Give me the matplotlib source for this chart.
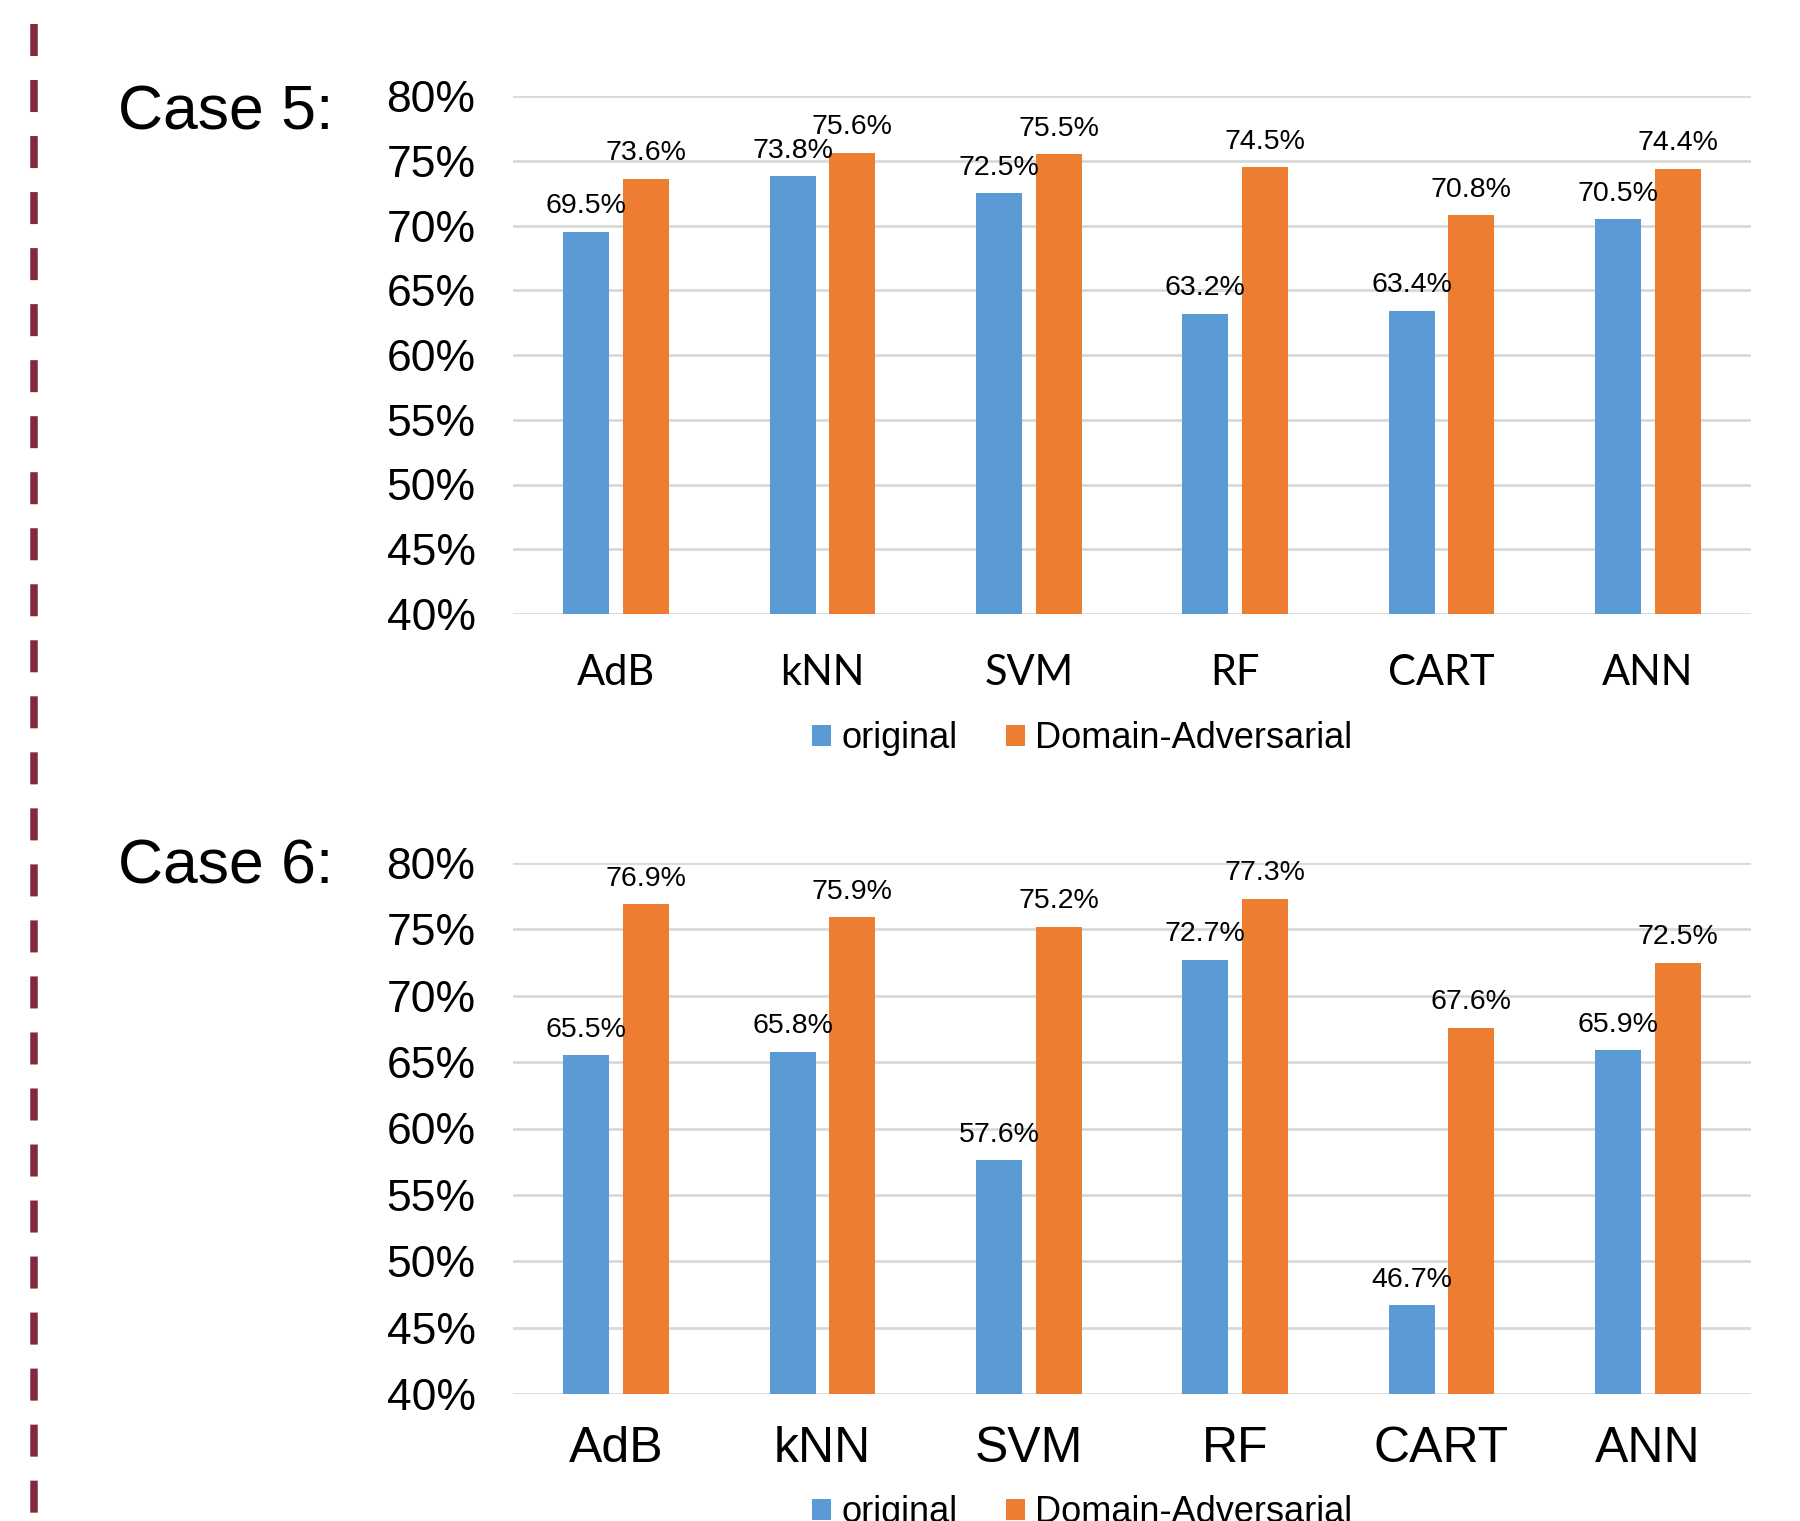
import matplotlib
matplotlib.use("Agg")
import matplotlib.pyplot as plt
from matplotlib.lines import Line2D
from matplotlib.patches import Patch

categories = ["AdB", "kNN", "SVM", "RF", "CART", "ANN"]
case5_original = [69.5, 73.8, 72.5, 63.2, 63.4, 70.5]
case5_adversarial = [73.6, 75.6, 75.5, 74.5, 70.8, 74.4]
case6_original = [65.5, 65.8, 57.6, 72.7, 46.7, 65.9]
case6_adversarial = [76.9, 75.9, 75.2, 77.3, 67.6, 72.5]
y_ticks = [40, 45, 50, 55, 60, 65, 70, 75, 80]
series_names = ["original", "Domain-Adversarial"]

BLUE = "#5B9BD5"
ORANGE = "#ED7D31"
GRID = "#D9D9D9"
ARIAL = "Liberation Sans"
CALIBRI_LIKE = "Lato"

W, H = 1800, 1521
fig = plt.figure(figsize=(W / 100, H / 100), dpi=100)

# dashed maroon divider on the left
fig.add_artist(Line2D([34 / W, 34 / W], [1 - 24 / H, 0], transform=fig.transFigure,
                      color="#84283C", linewidth=5.4, linestyle=(0, (4.27, 3.2)),
                      solid_capstyle="butt"))


def draw_case(rect, orig, adv, title, title_y, cat_font, cat_size, cat_pad, leg_y):
    ax = fig.add_axes(rect)
    x = list(range(len(categories)))
    bw = 0.223
    off = 0.145
    b1 = ax.bar([i - off for i in x], orig, width=bw, color=BLUE, zorder=3)
    b2 = ax.bar([i + off for i in x], adv, width=bw, color=ORANGE, zorder=3)
    for bars, vals in ((b1, orig), (b2, adv)):
        for rect_, v in zip(bars, vals):
            ax.annotate(f"{v:.1f}%", (rect_.get_x() + rect_.get_width() / 2, v),
                        xytext=(0, 9), textcoords="offset points",
                        ha="center", va="bottom", fontsize=20.5,
                        family=ARIAL, color="#000000", zorder=4)
    ax.set_ylim(40, 80)
    ax.set_xlim(-0.5, len(categories) - 0.5)
    ax.set_yticks(y_ticks)
    ax.set_yticklabels([f"{t}%" for t in y_ticks], fontsize=32, family=ARIAL)
    ax.set_xticks(x)
    ax.set_xticklabels(categories, fontsize=cat_size, family=cat_font)
    ax.tick_params(axis="y", length=0, pad=27)
    ax.tick_params(axis="x", length=0, pad=cat_pad)
    for s in ax.spines.values():
        s.set_visible(False)
    ax.yaxis.grid(True, color=GRID, linewidth=2.0, zorder=0)
    ax.set_axisbelow(True)
    fig.text(118 / W, 1 - title_y / H, title, fontsize=45, family=ARIAL,
             ha="left", va="baseline")
    handles = [Patch(facecolor=BLUE), Patch(facecolor=ORANGE)]
    fig.legend(handles, series_names, loc="center",
               bbox_to_anchor=(1082 / W, 1 - leg_y / H),
               ncol=2, frameon=False,
               prop={"family": ARIAL, "size": 26},
               handlelength=0.53, handleheight=0.53, handletextpad=0.28,
               columnspacing=1.33, borderpad=0)
    return ax


top_rect = [513 / W, 1 - 614 / H, (1751 - 513) / W, (614 - 96) / H]
bot_rect = [513 / W, 1 - 1394 / H, (1751 - 513) / W, (1394 - 863) / H]

draw_case(top_rect, case5_original, case5_adversarial, "Case 5:", 129,
          CALIBRI_LIKE, 30, 29, 739)
draw_case(bot_rect, case6_original, case6_adversarial, "Case 6:", 883,
          ARIAL, 36, 23, 1513)

fig.savefig("out.png", dpi=100, facecolor="white")
